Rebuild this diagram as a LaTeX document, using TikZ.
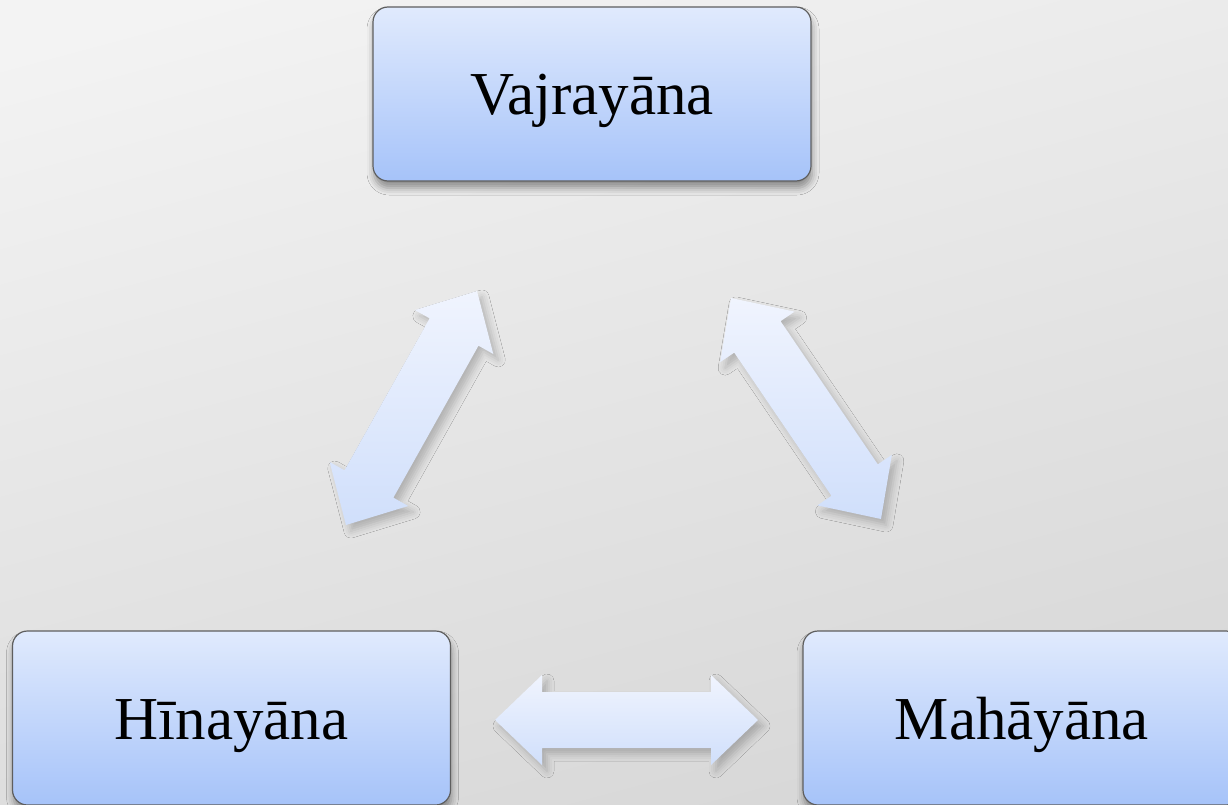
\documentclass[tikz,border=0pt]{standalone}
\usepackage{fontspec}
\setmainfont{Liberation Serif}
\usetikzlibrary{calc,shadows.blur}
\definecolor{bgA}{HTML}{F3F3F3}
\definecolor{bgB}{HTML}{D6D6D6}
\definecolor{boxtop}{HTML}{E0EAFD}
\definecolor{boxbot}{HTML}{A6C3F9}
\definecolor{boxline}{HTML}{5E5E5E}
\definecolor{arrtop}{HTML}{F0F4FE}
\definecolor{arrbot}{HTML}{D0DFFB}
\newcommand\fatarrow[2]{%
  \coordinate (#1-h) at ($(#1)!47pt!(#2)$);
  \coordinate (#2-h) at ($(#2)!47pt!(#1)$);
  \path[arrowfill] (#1)
    -- ($(#1-h)!45pt!90:(#2)$) -- ($(#1-h)!28pt!90:(#2)$)
    -- ($(#2-h)!28pt!90:(#2)$) -- ($(#2-h)!45pt!90:(#2)$)
    -- (#2)
    -- ($(#2-h)!45pt!-90:(#2)$) -- ($(#2-h)!28pt!-90:(#2)$)
    -- ($(#1-h)!28pt!-90:(#2)$) -- ($(#1-h)!45pt!-90:(#2)$)
    -- cycle;}
\begin{document}
\begin{tikzpicture}[x=1pt,y=-1pt,
  box/.style={draw=boxline, line width=1.2pt, rounded corners=15pt,
    top color=boxtop, bottom color=boxbot,
    minimum width=438pt, minimum height=174pt, inner sep=0pt,
    font=\fontsize{61}{72}\selectfont, text height=50pt, text depth=8pt,
    blur shadow={shadow xshift=1pt, shadow yshift=-7pt, shadow blur radius=7pt, shadow opacity=40}},
  arrowfill/.style={top color=arrtop, bottom color=arrbot, draw=none,
    blur shadow={shadow xshift=5pt, shadow yshift=-6pt, shadow blur radius=7pt, shadow opacity=22}}]
\useasboundingbox (0,0) rectangle (1228,805);
\clip (0,0) rectangle (1228,805);
\shade[top color=bgA, bottom color=bgB, shading angle=15] (-50,-50) rectangle (1278,855);
\node[box] (vaj) at (592,94) {Vajrayāna};
\node[box] (hin) at (231.5,718) {Hīnayāna};
\node[box] (mah) at (1022,718) {Mahāyāna};
\coordinate (l1) at (346,525);
\coordinate (l2) at (477,291);
\coordinate (r1) at (731,298);
\coordinate (r2) at (881,519);
\coordinate (b1) at (495,720);
\coordinate (b2) at (758,720);
\fatarrow{l1}{l2}
\fatarrow{r1}{r2}
\fatarrow{b1}{b2}
\end{tikzpicture}
\end{document}
